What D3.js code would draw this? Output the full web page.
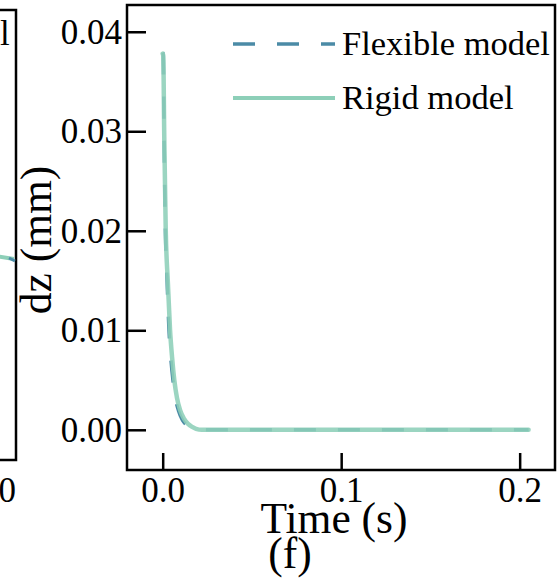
<!DOCTYPE html>
<html>
<head>
<meta charset="utf-8">
<script src="https://cdn.jsdelivr.net/npm/d3@7"></script>
<style>
  body { margin: 0; background: #fff; }
  svg text { font-family: "Liberation Serif", "DejaVu Serif", serif; }
</style>
</head>
<body>
<svg id="chart" width="559" height="580"></svg>
<script>
// data
const rigid_t = [0, 0.0003, 0.0009, 0.0017, 0.0029, 0.0041, 0.0053, 0.0065, 0.0080, 0.0097, 0.0120, 0.0142, 0.0165, 0.0187, 0.0220, 0.05, 0.1, 0.15, 0.205];
const rigid_dz = [0.0378, 0.0376, 0.0291, 0.0201, 0.0148, 0.0101, 0.0072, 0.0050, 0.0032, 0.0020, 0.0011, 0.0006, 0.0003, 0.0001, 0.0000, 0.0000, 0.0000, 0.0000, 0.0000];
const flex_t = [0, 0.0003, 0.0008, 0.0015, 0.0025, 0.0035, 0.0046, 0.0058, 0.0072, 0.0089, 0.0110, 0.0132, 0.0155, 0.0180, 0.0215, 0.05, 0.1, 0.15, 0.205];
const flex_dz = [0.0379, 0.0377, 0.0292, 0.0202, 0.0148, 0.0101, 0.0071, 0.0049, 0.0031, 0.0019, 0.0010, 0.0005, 0.0002, 0.0001, 0.0000, 0.0000, 0.0000, 0.0000, 0.0000];
const x_ticks = [0.0, 0.1, 0.2];
const y_ticks = [0.00, 0.01, 0.02, 0.03, 0.04];
const legend_names = ["Flexible model", "Rigid model"];

const SVG = d3.select("#chart");
const FLEX_COR = "#4b8ba6";
const RIGID_COR = "#8dcfb8";
const FONT_TICK = 35;
const FONT_LEG = 34.5;
const FONT_TITLE = 43.5;

// plot frame
const L = 127, T = 5, R = 555, B = 470;
const X_SCALE = d3.scaleLinear().domain([-0.02, 0.2198]).range([L, R]);
const Y_SCALE = d3.scaleLinear().domain([-0.00404, 0.04269]).range([B, T]);

// neighbouring panel, cut off at the left edge
const nb = SVG.append("g");
nb.append("path")
    .attr("d", "M-5,10 L16,10 L16,460 L-5,460")
    .attr("fill", "none").attr("stroke", "#000").attr("stroke-width", 2.5);
nb.append("line").attr("x1", -5).attr("x2", 14).attr("y1", 256).attr("y2", 259)
    .attr("stroke", RIGID_COR).attr("stroke-width", 4);
nb.append("line").attr("x1", 9).attr("x2", 15).attr("y1", 258).attr("y2", 261)
    .attr("stroke", FLEX_COR).attr("stroke-width", 3);
nb.append("text").text("l").attr("x", 0).attr("y", 45).attr("font-size", FONT_TICK);
nb.append("text").text("0").attr("x", 16).attr("y", 502).attr("font-size", FONT_TICK).attr("text-anchor", "end");

// lines
const line = d3.line().curve(d3.curveMonotoneX);
const flex_pts = flex_t.map((t, i) => [X_SCALE(t), Y_SCALE(flex_dz[i])]);
const rigid_pts = rigid_t.map((t, i) => [X_SCALE(t), Y_SCALE(rigid_dz[i])]);

SVG.append("path")
    .attr("d", line(flex_pts))
    .attr("fill", "none")
    .attr("stroke", FLEX_COR)
    .attr("stroke-width", 3.5)
    .attr("stroke-dasharray", "22,22");
SVG.append("path")
    .attr("d", line(rigid_pts))
    .attr("fill", "none")
    .attr("stroke", RIGID_COR)
    .attr("stroke-width", 4.5)
    .attr("stroke-linecap", "round")
    .attr("opacity", 0.88);

// axes: ticks pointing inward
const x_axis = d3.axisBottom(X_SCALE).tickValues(x_ticks).tickFormat(d3.format(".1f"))
    .tickSizeInner(-17).tickSizeOuter(0).tickPadding(7);
const y_axis = d3.axisLeft(Y_SCALE).tickValues(y_ticks).tickFormat(d3.format(".2f"))
    .tickSizeInner(-19).tickSizeOuter(0).tickPadding(5);

const gx = SVG.append("g").attr("transform", `translate(0,${B})`).call(x_axis);
const gy = SVG.append("g").attr("transform", `translate(${L},0)`).call(y_axis);
[gx, gy].forEach(g => {
    g.select(".domain").remove();
    g.selectAll(".tick line").attr("stroke", "#000").attr("stroke-width", 2.5);
    g.selectAll(".tick text").attr("font-size", FONT_TICK).attr("fill", "#000")
        .attr("font-family", "Liberation Serif");
});
gy.selectAll(".tick text").attr("dy", "0.33em");

// frame
SVG.append("rect")
    .attr("x", L).attr("y", T).attr("width", R - L).attr("height", B - T)
    .attr("fill", "none").attr("stroke", "#000").attr("stroke-width", 2.5);

// titles
SVG.append("text").text("Time (s)")
    .attr("x", 334).attr("y", 533).attr("text-anchor", "middle").attr("font-size", FONT_TITLE);
SVG.append("text").text("(f)")
    .attr("x", 290).attr("y", 568).attr("text-anchor", "middle").attr("font-size", FONT_TITLE);
SVG.append("text").text("dz (mm)")
    .attr("transform", "translate(51,240) rotate(-90)")
    .attr("text-anchor", "middle").attr("font-size", FONT_TITLE);

// legend
const legend_y = [44, 98];
legend_names.forEach((name, i) => {
    const lg = SVG.append("g");
    lg.append("line")
        .attr("x1", 233).attr("x2", 335).attr("y1", legend_y[i]).attr("y2", legend_y[i])
        .attr("stroke", i === 0 ? FLEX_COR : RIGID_COR)
        .attr("stroke-width", i === 0 ? 3.5 : 4)
        .attr("stroke-dasharray", i === 0 ? "22,22" : null);
    lg.append("text").text(name)
        .attr("x", 342).attr("y", legend_y[i] + 11)
        .attr("font-size", FONT_LEG);
});
</script>
</body>
</html>
